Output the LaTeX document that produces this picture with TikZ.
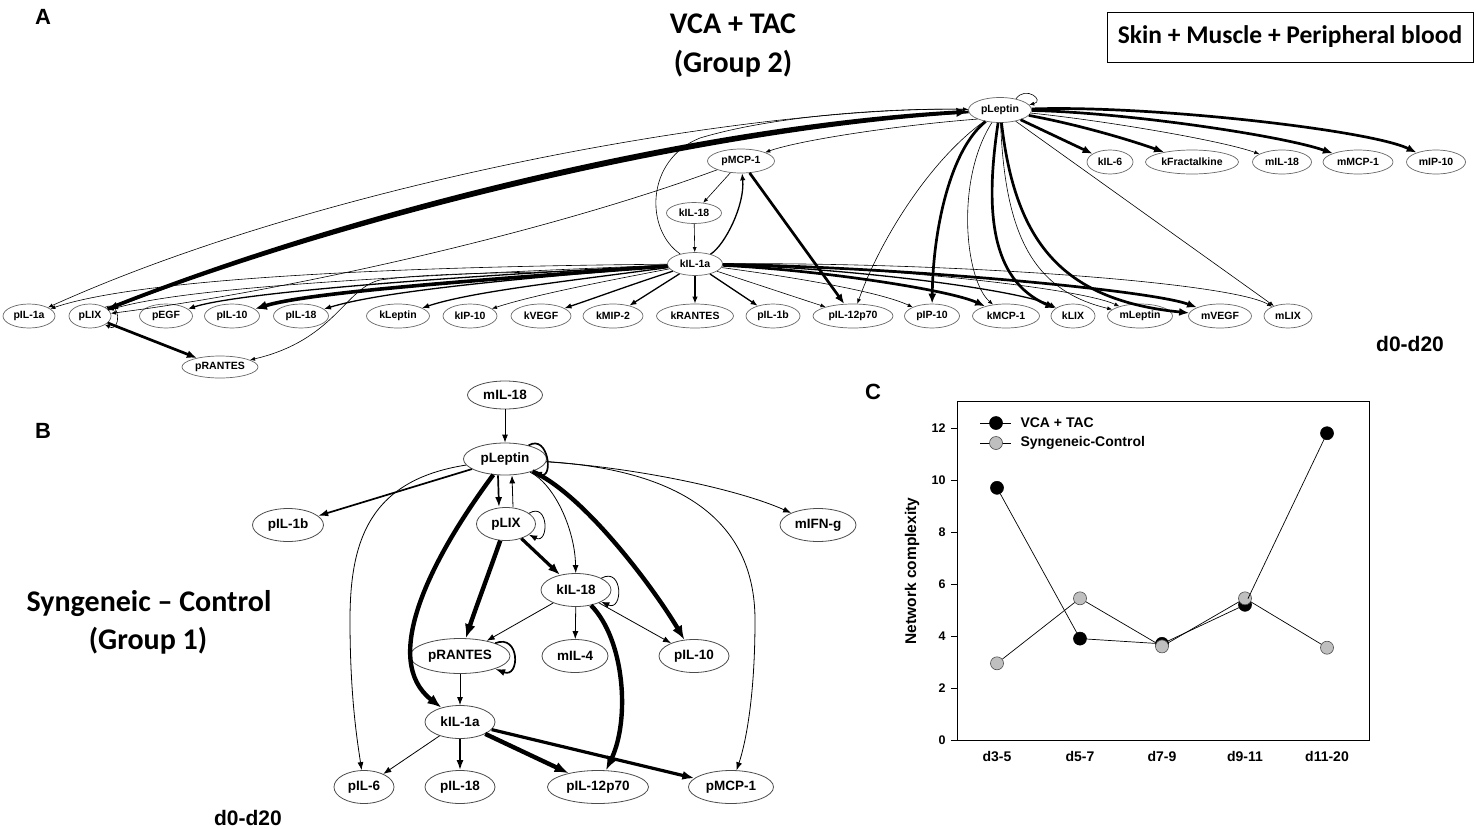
\documentclass[tikz,border=0pt]{standalone}
\usepackage{fontspec}
\setmainfont{Liberation Sans}
\newfontfamily\calfont{Carlito}
\usetikzlibrary{shapes.geometric,arrows.meta}
\begin{document}
\begin{tikzpicture}[x=1pt,y=-1pt,
 nA/.style={ellipse,draw=black!60,line width=0.7pt,inner sep=0pt,minimum height=24pt,font=\fontsize{10.5}{11}\selectfont\bfseries},
 nB/.style={ellipse,draw=black!70,line width=0.8pt,inner sep=0pt,minimum height=33pt,font=\fontsize{13.5}{14}\selectfont\bfseries},
 aT/.style={line width=0.6pt,-{Latex[length=5pt,width=4pt]}},
 aM/.style={line width=1.3pt,-{Latex[length=7pt,width=5.5pt]}},
 aK/.style={line width=2.7pt,-{Latex[length=10pt,width=8pt]}},
 aV/.style={line width=3.6pt,-{Latex[length=12pt,width=9.5pt]}},
 bT/.style={line width=0.8pt,-{Latex[length=8pt,width=6pt]}},
 bM/.style={line width=1.7pt,-{Latex[length=10pt,width=7pt]}},
 bK/.style={line width=3.2pt,-{Latex[length=12pt,width=9pt]}},
 bV/.style={line width=4.4pt,-{Latex[length=14pt,width=11pt]}},
 ttl/.style={font=\calfont\bfseries\fontsize{30}{32}\selectfont},
 lett/.style={font=\fontsize{22}{24}\selectfont\bfseries},
 dlab/.style={font=\fontsize{21}{23}\selectfont\bfseries},
 mk/.style={circle,inner sep=0pt,minimum size=13pt,line width=0.6pt,draw=black},
 mkb/.style={mk,fill=black},
 mkg/.style={mk,fill=black!25,draw=black!70},
 plab/.style={font=\fontsize{14}{15}\selectfont\bfseries}
]
\useasboundingbox (0,0) rectangle (1476,828);

% ---------- labels ----------
\node[lett] (LA) at (43,17) {A};
\node[lett] (LB) at (43,431) {B};
\node[lett] (LC) at (873,392) {C};
\node[ttl] (t1) at (733,24) {VCA + TAC};
\node[ttl] (t2) at (733,64) {(Group 2)};
\node[ttl] (t3) at (149,604) {Syngeneic – Control};
\node[ttl] (t4) at (148,641) {(Group 1)};
\node[draw,line width=0.8pt,minimum width=366pt,minimum height=50pt,inner sep=0pt,font=\calfont\bfseries\fontsize{25.5}{27}\selectfont] (box) at (1290,37) {Skin + Muscle + Peripheral blood};
\node[dlab] (dA) at (1410,344) {d0-d20};
\node[dlab] (dB) at (248,818) {d0-d20};

% ---------- Panel A nodes ----------
\node[nA,minimum width=63pt,minimum height=25pt] (pLeptin) at (1000,110) {pLeptin};
\node[nA,minimum width=46pt] (kIL6) at (1110,162) {kIL-6};
\node[nA,minimum width=93pt] (kFrac) at (1192,162) {kFractalkine};
\node[nA,minimum width=59pt] (mIL18) at (1282,162) {mIL-18};
\node[nA,minimum width=70pt] (mMCP1) at (1358,162) {mMCP-1};
\node[nA,minimum width=59pt] (mIP10) at (1436,162) {mIP-10};
\node[nA,minimum width=67pt] (pMCP1) at (741,161) {pMCP-1};
\node[nA,minimum width=55pt,minimum height=21pt] (kIL18) at (694,213) {kIL-18};
\node[nA,minimum width=55pt,minimum height=23pt] (kIL1a) at (695,264) {kIL-1a};
\node[nA,minimum width=52pt] (pIL1a) at (29,316) {pIL-1a};
\node[nA,minimum width=42pt] (pLIX) at (90,316) {pLIX};
\node[nA,minimum width=53pt] (pEGF) at (166,316) {pEGF};
\node[nA,minimum width=55pt] (pIL10) at (232,316) {pIL-10};
\node[nA,minimum width=55pt] (pIL18) at (301,316) {pIL-18};
\node[nA,minimum width=63pt] (kLeptin) at (398,316) {kLeptin};
\node[nA,minimum width=54pt] (kIP10) at (470,316) {kIP-10};
\node[nA,minimum width=60pt] (kVEGF) at (541,316) {kVEGF};
\node[nA,minimum width=60pt] (kMIP2) at (613,316) {kMIP-2};
\node[nA,minimum width=77pt] (kRANTES) at (695,316) {kRANTES};
\node[nA,minimum width=54pt] (pIL1b) at (773,316) {pIL-1b};
\node[nA,minimum width=80pt] (pIL12) at (853,316) {pIL-12p70};
\node[nA,minimum width=55pt] (pIP10) at (932,316) {pIP-10};
\node[nA,minimum width=67pt] (kMCP1) at (1006,316) {kMCP-1};
\node[nA,minimum width=44pt] (kLIX) at (1073,316) {kLIX};
\node[nA,minimum width=65pt] (mLeptin) at (1140,316) {mLeptin};
\node[nA,minimum width=63pt] (mVEGF) at (1220,316) {mVEGF};
\node[nA,minimum width=48pt] (mLIX) at (1288,316) {mLIX};
\node[nA,minimum width=76pt,minimum height=22pt] (pRANTES) at (220,367) {pRANTES};

% ---------- Panel A edges ----------
\draw[aT] (pLeptin) .. controls (760,105) and (330,180) .. (pIL1a);
\draw[aV] (pLIX) .. controls (350,212) and (700,126) .. (pLeptin);
\draw[aK] (pLeptin) .. controls (700,129) and (350,216) .. (pLIX);
\draw[aT] (pMCP1) .. controls (540,235) and (280,292) .. (pLIX);
\draw[aT] (pLeptin.south west) .. controls (900,125) and (800,140) .. (pMCP1);
\draw[aT] (pLeptin.35) .. controls +(10,-14) and +(16,-4) .. (pLeptin.10);

\draw[aT] (kIL1a) .. controls (450,266) and (150,275) .. (pIL1a);
\draw[aT] (kIL1a) .. controls (450,274) and (190,285) .. (pLIX);
\draw[aM] (kIL1a) .. controls (460,276) and (240,292) .. (pEGF);
\draw[aV] (kIL1a) .. controls (480,280) and (310,292) .. (pIL10);
\draw[aM] (kIL1a) .. controls (500,280) and (380,292) .. (pIL18);
\draw[aM] (kIL1a) .. controls (560,282) and (470,292) .. (kLeptin);
\draw[aT] (kIL1a) .. controls (600,282) and (530,296) .. (kIP10);
\draw[aM] (kIL1a) .. controls (630,285) and (595,298) .. (kVEGF);
\draw[aM] (kIL1a) -- (kMIP2);
\draw[aM] (kIL1a) -- (kRANTES);
\draw[aM] (kIL1a) -- (pIL1b);
\draw[aT] (kIL1a) -- (pIL12);
\draw[aT] (kIL1a) .. controls (800,278) and (880,292) .. (pIP10);
\draw[aK] (kIL1a) .. controls (820,270) and (950,290) .. (kMCP1);
\draw[aM] (kIL1a) .. controls (850,268) and (1020,290) .. (kLIX);
\draw[aT] (kIL1a) .. controls (880,266) and (1080,288) .. (mLeptin);
\draw[aK] (kIL1a) .. controls (900,267) and (1150,290) .. (mVEGF);
\draw[aT] (kIL1a) .. controls (950,262) and (1230,282) .. (mLIX);
\draw[aT] (kIL1a) .. controls (560,275) and (450,270) .. (380,280) .. controls (345,288) and (335,340) .. (pRANTES);

\draw[aK] (pLIX) -- (pRANTES);
\draw[aT] (pLIX.30) .. controls +(16,-8) and +(16,8) .. (pLIX.-30);

\draw[aT] (kIL18) -- (kIL1a);
\draw[aT] (pMCP1) -- (kIL18);
\draw[aM] (kIL1a) .. controls (725,245) and (745,205) .. (pMCP1);
\draw[aT] (kIL1a) .. controls (645,230) and (645,160) .. (700,138) .. controls (780,114) and (900,108) .. (pLeptin);
\draw[aK] (pMCP1) -- (pIL12);
\draw[aT] (pLeptin) .. controls (930,160) and (880,240) .. (pIL12);
\draw[aK] (pLeptin) .. controls (950,150) and (933,230) .. (pIP10);
\draw[aT] (pLeptin) .. controls (955,180) and (965,280) .. (kMCP1);
\draw[aK] (pLeptin) .. controls (985,210) and (990,280) .. (kLIX);
\draw[aT] (pLeptin) .. controls (1005,230) and (1030,290) .. (mLeptin);
\draw[aK] (pLeptin) .. controls (1015,240) and (1060,300) .. (mVEGF);
\draw[aT] (pLeptin) -- (mLIX);
\draw[aK] (pLeptin) -- (kIL6);
\draw[aK] (pLeptin) .. controls (1080,125) and (1130,140) .. (kFrac);
\draw[aT] (pLeptin) .. controls (1100,120) and (1220,140) .. (mIL18);
\draw[aK] (pLeptin) .. controls (1120,112) and (1280,135) .. (mMCP1);
\draw[aK] (pLeptin) .. controls (1150,105) and (1370,130) .. (mIP10);

% ---------- Panel B nodes ----------
\node[nB,minimum width=75pt,minimum height=28pt] (mIL18b) at (505,395) {mIL-18};
\node[nB,minimum width=83pt,minimum height=32pt] (pLeptinb) at (505,459) {pLeptin};
\node[nB,minimum width=71pt] (pIL1bb) at (288,525) {pIL-1b};
\node[nB,minimum width=59pt] (pLIXb) at (506,524) {pLIX};
\node[nB,minimum width=76pt] (mIFNgb) at (818,525) {mIFN-g};
\node[nB,minimum width=70pt] (kIL18b) at (576,590) {kIL-18};
\node[nB,minimum width=100pt,minimum height=35pt] (pRANTESb) at (460,656) {pRANTES};
\node[nB,minimum width=66pt] (mIL4b) at (575,656) {mIL-4};
\node[nB,minimum width=70pt] (pIL10b) at (694,656) {pIL-10};
\node[nB,minimum width=70pt] (kIL1ab) at (460,722) {kIL-1a};
\node[nB,minimum width=60pt] (pIL6b) at (364,787) {pIL-6};
\node[nB,minimum width=70pt] (pIL18b) at (460,787) {pIL-18};
\node[nB,minimum width=101pt] (pIL12b) at (598,787) {pIL-12p70};
\node[nB,minimum width=85pt] (pMCP1b) at (731,787) {pMCP-1};

% ---------- Panel B edges ----------
\draw[bT] (mIL18b) -- (pLeptinb);
\draw[bM] (pLeptinb.30) .. controls +(20,-12) and +(22,8) .. (pLeptinb.-25);
\draw[bM] (pLeptinb) -- (pIL1bb);
\draw[bM] ([xshift=-7pt]pLeptinb.south) -- ([xshift=-7pt]pLIXb.north);
\draw[bT] ([xshift=7pt]pLIXb.north) -- ([xshift=7pt]pLeptinb.south);
\draw[bT] (pLIXb.25) .. controls +(20,-12) and +(20,10) .. (pLIXb.-25);
\draw[bV] (pLIXb) .. controls (490,570) and (475,610) .. (pRANTESb);
\draw[bK] (pLIXb) -- (kIL18b);
\draw[bT] (pLeptinb) .. controls (555,485) and (575,530) .. (kIL18b);
\draw[bV] (pLeptinb) .. controls (585,495) and (655,590) .. (pIL10b);
\draw[bV] (pLeptinb) .. controls (430,560) and (380,660) .. (kIL1ab);
\draw[bT] (pLeptinb) .. controls (370,480) and (350,540) .. (350,620) .. controls (350,700) and (358,745) .. (pIL6b);
\draw[bT] (pLeptinb) .. controls (640,468) and (740,490) .. (mIFNgb);
\draw[bT] (pLeptinb) .. controls (680,470) and (755,520) .. (755,620) .. controls (755,700) and (745,745) .. (pMCP1b);
\draw[bT] (kIL18b.25) .. controls +(22,-12) and +(22,10) .. (kIL18b.-25);
\draw[bT] (kIL18b) -- (pRANTESb);
\draw[bT] (kIL18b) -- (mIL4b);
\draw[bT] (kIL18b) -- (pIL10b);
\draw[bV] (kIL18b) .. controls (625,640) and (630,720) .. (pIL12b);
\draw[bM] (pRANTESb.20) .. controls +(25,-10) and +(25,10) .. (pRANTESb.-20);
\draw[bT] (pRANTESb) -- (kIL1ab);
\draw[bT] (kIL1ab) -- (pIL6b);
\draw[bM] (kIL1ab) -- (pIL18b);
\draw[bV] (kIL1ab) -- (pIL12b);
\draw[bK] (kIL1ab) -- (pMCP1b);

% ---------- Panel C ----------
\draw[line width=0.8pt] (957,401) rectangle (1369,740);
\foreach \v in {0,2,4,6,8,10,12}{
  \draw[line width=0.8pt] (951,{740-26*\v}) -- (957,{740-26*\v});
  \node[anchor=east,font=\fontsize{12.5}{13}\selectfont\bfseries] at (949,{740-26*\v}) {\v};
}
\node[plab] at (997,756) {d3-5};
\node[plab] at (1080,756) {d5-7};
\node[plab] at (1162,756) {d7-9};
\node[plab] at (1245,756) {d9-11};
\node[plab] at (1327,756) {d11-20};
\node[rotate=90,font=\fontsize{15.5}{16}\selectfont\bfseries] at (912,571) {Network complexity};

\node[mkb] (v1) at (997,487.8) {};
\node[mkb] (v2) at (1080,638.6) {};
\node[mkb] (v3) at (1162,643.8) {};
\node[mkb] (v4) at (1245,604.8) {};
\node[mkb] (v5) at (1327,433.2) {};
\node[mkg] (s1) at (997,663.3) {};
\node[mkg] (s2) at (1080,598.3) {};
\node[mkg] (s3) at (1162,646.4) {};
\node[mkg] (s4) at (1245,598.3) {};
\node[mkg] (s5) at (1327,647.7) {};
\draw[line width=0.7pt] (v1) -- (v2) -- (v3) -- (v4) -- (v5);
\draw[line width=0.7pt] (s1) -- (s2) -- (s3) -- (s4) -- (s5);

\coordinate (la1) at (980,423);
\coordinate (la2) at (1011,423);
\coordinate (lb1) at (980,443);
\coordinate (lb2) at (1011,443);
\draw[line width=0.8pt] (la1) -- (la2);
\draw[line width=0.8pt] (lb1) -- (lb2);
\node[mkb] (lv) at (996,423) {};
\node[mkg] (ls) at (996,443) {};
\node[anchor=west,plab] (lvt) at (1017,423) {VCA + TAC};
\node[anchor=west,plab] (lst) at (1017,443) {Syngeneic-Control};
\end{tikzpicture}
\end{document}
